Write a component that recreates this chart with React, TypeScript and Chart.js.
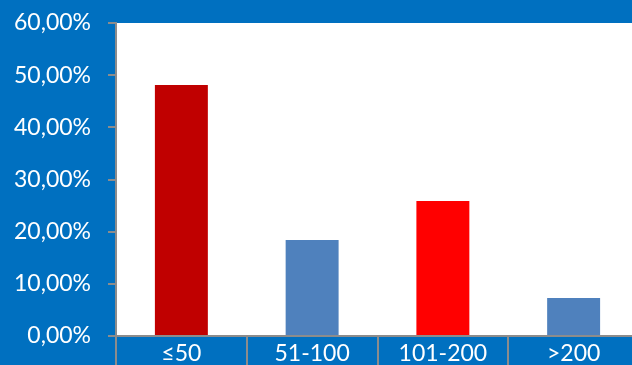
import React, { useEffect, useRef } from "react";
import { Chart, registerables } from "chart.js";

Chart.register(...registerables);

const categories = ["≤50", "51-100", "101-200", ">200"];
const values = [48.1, 18.4, 25.9, 7.3];
const barColors = ["#C00000", "#4F81BD", "#FF0000", "#4F81BD"];
const yTicks = [0, 10, 20, 30, 40, 50, 60];

const BG = "#0070C0";
const AXIS = "#8C8C8C";
const FONT = "Lato";

const plotBg = {
  id: "plotBg",
  beforeDraw(chart: any) {
    const { ctx, chartArea } = chart;
    ctx.save();
    ctx.fillStyle = "#FFFFFF";
    ctx.fillRect(chartArea.left, chartArea.top, chartArea.right - chartArea.left, chartArea.bottom - chartArea.top);
    ctx.restore();
  },
};

export default function App() {
  const ref = useRef<HTMLCanvasElement>(null);
  useEffect(() => {
    if (!ref.current) return;
    const chart = new Chart(ref.current, {
      type: "bar",
      data: {
        labels: categories,
        datasets: [
          {
            data: values,
            backgroundColor: barColors,
            borderWidth: 0,
            barPercentage: 0.405,
            categoryPercentage: 1,
          },
        ],
      },
      plugins: [plotBg],
      options: {
        responsive: false,
        animation: false,
        devicePixelRatio: 1,
        layout: { padding: { top: 23, left: 0, right: 1, bottom: 0 } },
        plugins: { legend: { display: false }, tooltip: { enabled: false } },
        scales: {
          x: {
            afterFit: (s: any) => {
              s.height = 29;
            },
            grid: {
              offset: true,
              drawOnChartArea: false,
              drawTicks: true,
              tickLength: 29,
              color: AXIS,
              lineWidth: 2,
            },
            border: { display: true, color: AXIS, width: 2 },
            ticks: {
              color: "#FFFFFF",
              font: { family: FONT, size: 23 },
              padding: -25,
              maxRotation: 0,
              autoSkip: false,
            },
          },
          y: {
            min: 0,
            max: 60,
            afterFit: (s: any) => {
              s.width = 116;
              s.paddingTop = 0;
              s.paddingBottom = 0;
            },
            afterBuildTicks: (s: any) => {
              s.ticks = yTicks.map((v) => ({ value: v }));
            },
            grid: {
              drawOnChartArea: false,
              drawTicks: true,
              tickLength: 8,
              color: AXIS,
              lineWidth: 2,
            },
            border: { display: true, color: AXIS, width: 2 },
            ticks: {
              color: "#FFFFFF",
              font: { family: FONT, size: 23 },
              padding: 17,
              callback: (v: any) => Number(v).toFixed(2).replace(".", ",") + "%",
            },
          },
        },
      },
    });
    return () => chart.destroy();
  }, []);
  return (
    <div
      style={{
        position: "fixed",
        left: 0,
        top: 0,
        width: 632,
        height: 365,
        overflow: "hidden",
        background: BG,
      }}
    >
      <canvas ref={ref} width={640} height={365} style={{ display: "block" }} />
    </div>
  );
}
